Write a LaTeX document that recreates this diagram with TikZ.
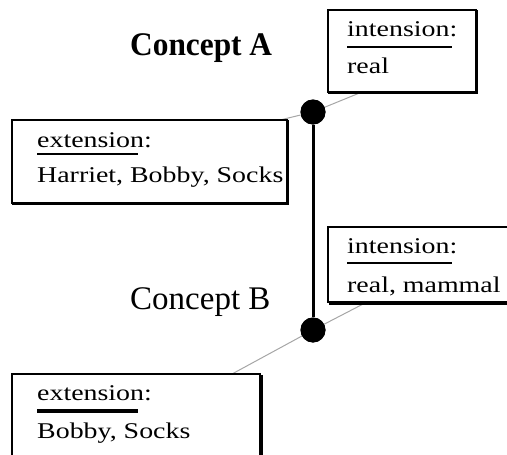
\documentclass[tikz,border=0pt]{standalone}
\usepackage{fontspec}
\setmainfont{Liberation Serif}
\newfontfamily\boxfont[FakeStretch=1.24]{Liberation Serif}
\newfontfamily\headfont[FakeStretch=0.95]{Liberation Serif}
\usetikzlibrary{shadows}
\begin{document}
\begin{tikzpicture}[x=1pt,y=-1pt,
  framebox/.style={draw, line width=2pt, fill=white, rectangle, inner sep=0pt},
  shadowA/.style={copy shadow={shadow xshift=1pt, shadow yshift=-1pt}},
  shadowB/.style={copy shadow={shadow xshift=2pt, shadow yshift=-2pt}},
  boxtext/.style={anchor=base west, inner sep=0pt, font=\boxfont\fontsize{22.5}{27}\selectfont},
  headtext/.style={anchor=base west, inner sep=0pt},
  conceptdot/.style={circle, fill=black, minimum size=25pt, inner sep=0pt},
  link/.style={draw=black!35, line width=1pt},
  rule/.style={line width=2pt},
]
\useasboundingbox (0,0) rectangle (507,455);
\clip (0,0) rectangle (507,455);

% concept labels
\node[headtext, font=\headfont\bfseries\fontsize{33}{38}\selectfont] (labA) at (130,55) {Concept A};
\node[headtext, font=\fontsize{33}{38}\selectfont] (labB) at (130,309) {Concept B};

% lattice points
\node[conceptdot] (dotA) at (313,112) {};
\node[conceptdot] (dotB) at (313,330) {};

% attachment points on the boxes
\coordinate (attIntA) at (362,92);
\coordinate (attExtA) at (280,120);
\coordinate (attIntB) at (367,302);
\coordinate (attExtB) at (232,374);

% thin links from points to boxes
\draw[link] (dotA) -- (attIntA);
\draw[link] (dotA) -- (attExtA);
\draw[link] (dotB) -- (attIntB);
\draw[link] (dotB) -- (attExtB);

% boxes
\node[framebox, shadowA, minimum width=148pt, minimum height=82pt] (intA) at (402,51) {};
\node[framebox, shadowA, minimum width=275pt, minimum height=83pt] (extA) at (149.5,161.5) {};
\node[framebox, shadowB, minimum width=192pt, minimum height=75pt] (intB) at (424,264.5) {};
\node[framebox, shadowB, minimum width=248pt, minimum height=96pt] (extB) at (136,422) {};

% box contents
\node[boxtext] (intAh) at (347,37) {intension:};
\node[boxtext] (intAv) at (347,73) {real};
\draw[rule] (347,47) -- (452,47);

\node[boxtext] (extAh) at (37,147) {extension:};
\node[boxtext] (extAv) at (37,182) {Harriet, Bobby, Socks};
\draw[rule] (37,154) -- (138,154);

\node[boxtext] (intBh) at (347,253) {intension:};
\node[boxtext] (intBv) at (347,292) {real, mammal};
\draw[rule] (347,263) -- (452,263);

\node[boxtext] (extBh) at (37,400) {extension:};
\node[boxtext] (extBv) at (37,438) {Bobby, Socks};
\draw[line width=4pt] (37,411) -- (138,411);

% vertical order line
\draw[line width=3pt] (dotA) -- (dotB);
\node[conceptdot] at (dotA) {};
\node[conceptdot] at (dotB) {};
\end{tikzpicture}
\end{document}
